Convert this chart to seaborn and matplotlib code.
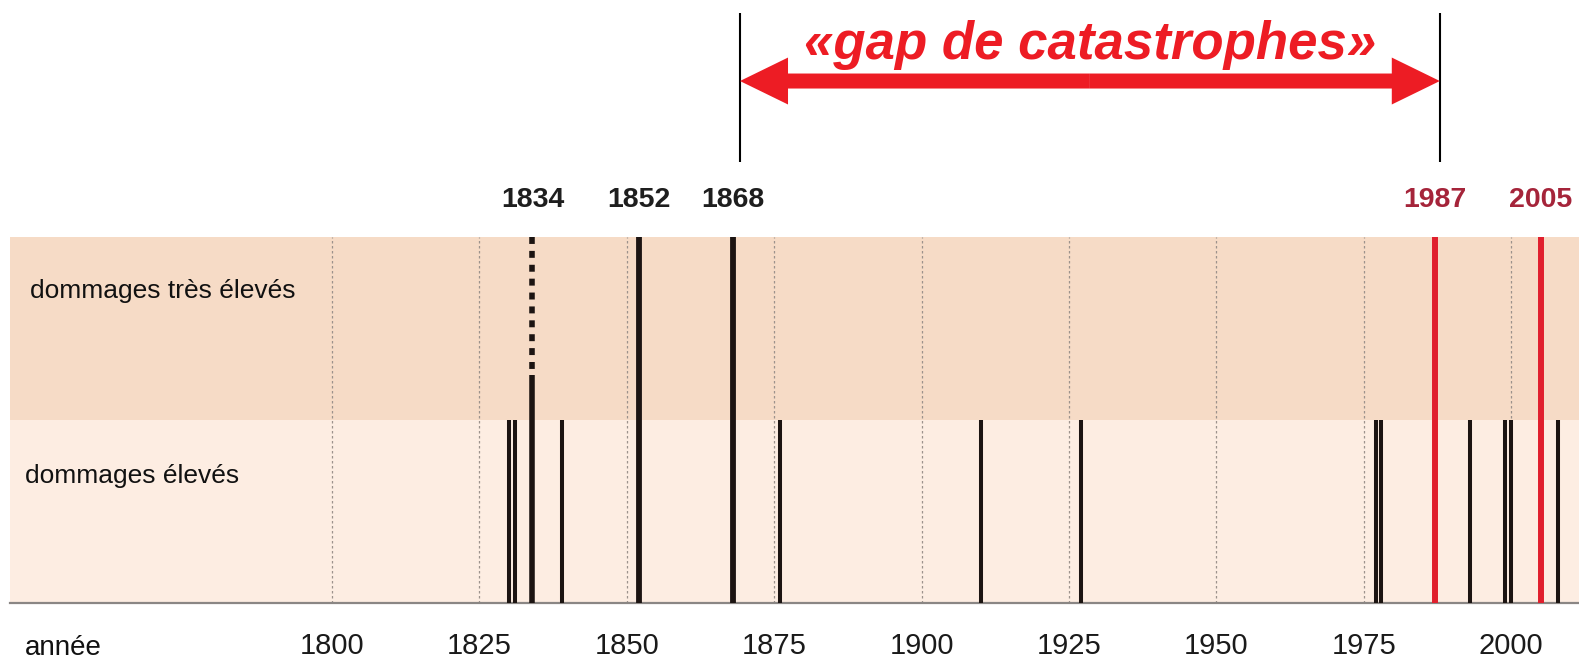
#!/usr/bin/env python3
"""Timeline of damaging events with the 'gap de catastrophes' annotation."""
import matplotlib
matplotlib.use('Agg')
import matplotlib.pyplot as plt
import matplotlib.transforms as mtransforms
from matplotlib import font_manager
import seaborn as sns

# Data
year_range = [1745.4, 2011.5]
grid_years = [1800, 1825, 1850, 1875, 1900, 1925, 1950, 1975, 2000]
tick_labels = ['1800', '1825', '1850', '1875', '1900', '1925', '1950', '1975', '2000']

band_names = ['dommages élevés', 'dommages très élevés']
band_levels = [1, 2]

high_years = [1830, 1831, 1839, 1876, 1910, 1927, 1977, 1978, 1993, 1999, 2000, 2008]
very_high_black = [1852, 1868]
very_high_red = [1987, 2005]
uncertain_year = 1834
uncertain_solid_level = 1.245

labelled_black = ['1834', '1852', '1868']
labelled_red = ['1987', '2005']

gap_text = '«gap de catastrophes»'
gap_years = [1868, 1987]

# Colours
upper_band = '#f6dbc6'
lower_band = '#fdede2'
red_line = '#e01f2d'
red_label = '#a5243a'
arrow_red = '#ed1c24'


def pick_font(name, fallback):
    """Return name if installed, otherwise fallback."""
    try:
        font_manager.findfont(name, fallback_to_default=False)
        return name
    except ValueError:
        return fallback


sns.set_theme(style='white')
narrow = pick_font('Liberation Sans Narrow', 'Liberation Sans')
plt.rcParams['font.family'] = [narrow, 'DejaVu Sans']

fig = plt.figure(figsize=(15.79, 6.6), dpi=100)
ax = fig.add_axes([10 / 1579, 57 / 660, 1569 / 1579, 366.3 / 660])

# Bands
ax.axhspan(0, band_levels[0], color=lower_band, lw=0, zorder=0)
ax.axhspan(band_levels[0], band_levels[1], color=upper_band, lw=0, zorder=0)

# Dotted reference grid
ax.vlines(grid_years, 0, band_levels[1], colors='#9c928c', lw=0.9,
          linestyles=(0, (2, 2)), zorder=1)

# Events
ax.vlines(high_years, 0, band_levels[0], colors='#1c1412', lw=2.9, zorder=3)
ax.vlines(very_high_black, 0, band_levels[1], colors='#1c1412', lw=4.2, zorder=3)
ax.vlines(very_high_red, 0, band_levels[1], colors=red_line, lw=4.3, zorder=3)
ax.vlines([uncertain_year], 0, uncertain_solid_level, colors='#1c1412', lw=4.0, zorder=3)
dotted = ax.vlines([uncertain_year], band_levels[1], uncertain_solid_level,
                   colors='#1c1412', lw=4.0, linestyles=(0, (1.25, 1.25)), zorder=3)
dotted.set_capstyle('butt')

ax.set_xlim(year_range)
ax.set_ylim(0, band_levels[1])
ax.set_yticks([])
ax.set_xticks(grid_years, tick_labels, fontsize=21, color='#1a1a1a')
ax.tick_params(axis='x', length=0, pad=21)
sns.despine(ax=ax, left=True, right=True, top=True)
ax.spines['bottom'].set_color('#8a8684')
ax.spines['bottom'].set_linewidth(1.6)

# Band names and axis name
left_data = mtransforms.blended_transform_factory(ax.transAxes, ax.transData)
ax.text(0.0127, 1.665, band_names[1], transform=left_data,
        fontsize=19, va='baseline', ha='left', color='#111111')
ax.text(0.0096, 0.655, band_names[0], transform=left_data,
        fontsize=19, va='baseline', ha='left', color='#111111')
ax.text(0.0096, -0.142, 'année', transform=ax.transAxes, fontsize=20,
        va='baseline', ha='left', color='#111111')

# Year labels above the very high events
above = mtransforms.blended_transform_factory(ax.transData, ax.transAxes)
black_years = [uncertain_year] + very_high_black
for yr, lab in zip(black_years, labelled_black):
    ax.text(yr, 1.082, lab, transform=above, ha='center', va='baseline',
            fontsize=20.5, fontweight='bold', color='#1e1e1e', clip_on=False)
for yr, lab in zip(very_high_red, labelled_red):
    ax.text(yr, 1.082, lab, transform=above, ha='center', va='baseline',
            fontsize=20.5, fontweight='bold', color=red_label, clip_on=False)

# Gap annotation
gap_x = [gap_years[0] + 1.2, gap_years[1] + 0.9]
ax.vlines(gap_x, 1.204, 1.611, transform=above, colors='black', lw=1.5, clip_on=False)
mid = (gap_x[0] + gap_x[1]) / 2
for end in gap_x:
    ax.annotate('', xy=(end, 1.425), xytext=(mid, 1.425), xycoords=above,
                textcoords=above, annotation_clip=False,
                arrowprops=dict(arrowstyle='simple,head_length=3.46,head_width=3.38,tail_width=1.08',
                                mutation_scale=10, color=arrow_red, lw=0,
                                shrinkA=0, shrinkB=0))
ax.text(mid, 1.484, gap_text, transform=above, ha='center', va='baseline',
        fontsize=38, fontweight='bold', fontstyle='italic', color=arrow_red,
        family=['Liberation Sans', 'DejaVu Sans'], clip_on=False)

fig.savefig('out.png', dpi=100, facecolor='white')
plt.close(fig)
